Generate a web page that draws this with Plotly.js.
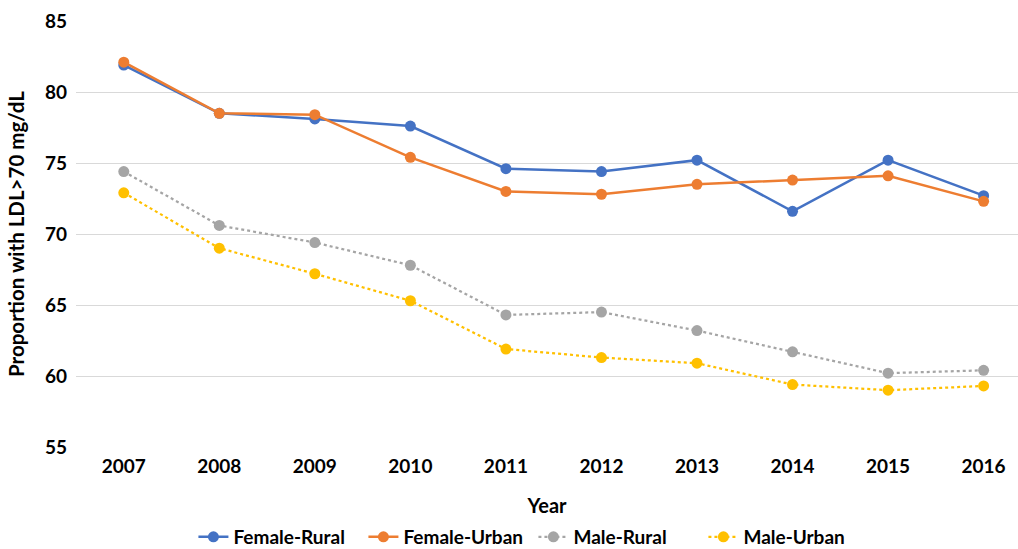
<!DOCTYPE html>
<html><head><meta charset="utf-8">
<script src="https://cdn.plot.ly/plotly-3.0.1.min.js"></script>
<style>html,body{margin:0;padding:0;background:#fff}#chart{width:1018px;height:549px}</style>
</head><body><div id="chart"></div>
<script>
const years = ["2007","2008","2009","2010","2011","2012","2013","2014","2015","2016"];
const femaleRural = [81.9, 78.5, 78.1, 77.6, 74.6, 74.4, 75.2, 71.6, 75.2, 72.7];
const femaleUrban = [82.1, 78.5, 78.4, 75.4, 73.0, 72.8, 73.5, 73.8, 74.1, 72.3];
const maleRural   = [74.4, 70.6, 69.4, 67.8, 64.3, 64.5, 63.2, 61.7, 60.2, 60.4];
const maleUrban   = [72.9, 69.0, 67.2, 65.3, 61.9, 61.3, 60.9, 59.4, 59.0, 59.3];
const yTicks = [55, 60, 65, 70, 75, 80, 85];

const FONT = "Lato, 'Open Sans', sans-serif";
function tr(name, y, color, dash, width) {
  return {x: years, y: y, name: name, type: 'scatter', mode: 'lines+markers',
    line: {color: color, width: width, dash: dash},
    marker: {color: color, size: 11}};
}
const data = [
  tr('Female-Rural', femaleRural, '#4472C4', 'solid', 2.5),
  tr('Female-Urban', femaleUrban, '#ED7D31', 'solid', 2.5),
  tr('Male-Rural', maleRural, '#A5A5A5', 'dot', 2.25),
  tr('Male-Urban', maleUrban, '#FFC000', 'dot', 2.25)
];
const layout = {
  width: 1018, height: 549,
  margin: {l: 76, r: 0, t: 21, b: 102},
  paper_bgcolor: '#fff', plot_bgcolor: '#fff',
  font: {family: FONT, color: '#000', size: 19, weight: 'bold'},
  showlegend: true,
  legend: {orientation: 'h', xref: 'container', yref: 'container', x: 0.19, xanchor: 'left',
    y: 0.022, yanchor: 'middle', entrywidth: 125,
    font: {family: FONT, size: 19, color: '#000', weight: 'bold'}, itemwidth: 30, traceorder: 'normal'},
  xaxis: {type: 'category', range: [-0.5, 9.36], showgrid: false, zeroline: false, showline: false,
    automargin: false, ticks: '', ticklabelstandoff: 6, tickfont: {family: FONT, size: 19, weight: 'bold'},
    title: {text: 'Year', font: {family: FONT, size: 20, weight: 'bold'}, standoff: 22}},
  yaxis: {range: [55, 85], tickvals: yTicks, showgrid: true, gridcolor: '#D9D9D9', gridwidth: 1,
    automargin: false, zeroline: false, showline: false, ticks: '', ticklabelstandoff: 8,
    tickfont: {family: FONT, size: 19, weight: 'bold'},
    title: {text: 'Proportion with LDL>70 mg/dL', font: {family: FONT, size: 20.5, weight: 'bold'}, standoff: 14}}
};
Plotly.newPlot('chart', data, layout, {displayModeBar: false, responsive: false});
</script></body></html>
